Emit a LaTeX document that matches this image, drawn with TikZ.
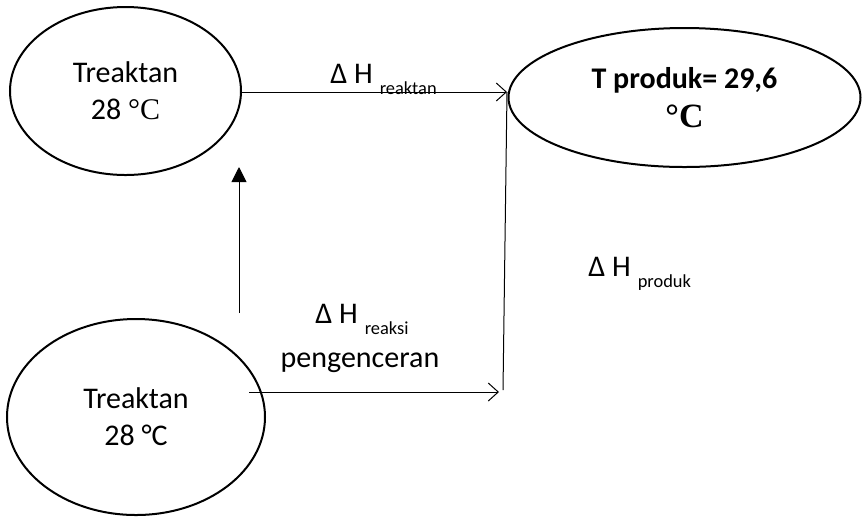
\documentclass[tikz,border=0pt]{standalone}
\usepackage{fontspec}
\setmainfont{Carlito}
\newfontfamily\tnr{Liberation Serif}
\usetikzlibrary{shapes.geometric,arrows.meta}
\begin{document}
\begin{tikzpicture}[x=0.5pt,y=-0.5pt,
  oval/.style={ellipse,draw,line width=1pt,inner sep=0pt,align=center,
    font=\fontsize{15}{18.5}\selectfont},
  conn/.style={line width=0.5pt},
  openhead/.style={-{Straight Barb[length=5pt,width=9pt,line width=0.5pt]}},
  filledhead/.style={-{Triangle[length=7.5pt,width=7.5pt]}},
  lbl/.style={inner sep=0pt,anchor=base west,font=\fontsize{15}{18.5}\selectfont}]
\useasboundingbox (0,0) rectangle (862,516);
\newcommand{\subtxt}[1]{\hspace{3.5pt}\raisebox{-5.5pt}{\fontsize{9.2}{10}\selectfont #1}}
\node[oval,minimum width=115.5pt,minimum height=84pt] (r1) at (125.5,91) {Treaktan\\28 {\tnr °C}};
\node[oval,minimum width=176pt,minimum height=69.5pt] (p) at (684.5,97.5) {\bfseries T produk= 29,6\\[1pt]{\fontsize{17}{18}\tnr\bfseries °C}};
\node[oval,minimum width=129pt,minimum height=98pt] (r2) at (136,417) {Treaktan\\28 °C};
\coordinate (t) at (507,92);
\coordinate (j) at (503,390);
\coordinate (b0) at (249,392);
\coordinate (u0) at (239,313);
\coordinate (u1) at (239,167);
\draw[conn,openhead] (r1.east |- t) -- (t);
\draw[conn] (j) -- (t);
\draw[conn,openhead] (b0) -- (499,392) coordinate (bend);
\draw[conn,filledhead] (u0) -- (u1);
\node[lbl] (lr) at (330,83) {Δ H\subtxt{reaktan}};
\node[lbl] (lk) at (315,323) {Δ H\subtxt{reaksi}};
\node[lbl,anchor=base] (lp) at (360,367) {pengenceran};
\node[lbl] (lpr) at (588,276) {Δ H\subtxt{produk}};
\end{tikzpicture}
\end{document}
